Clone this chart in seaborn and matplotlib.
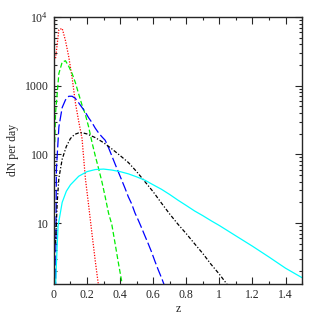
import numpy as np
import pandas as pd
import matplotlib
matplotlib.use('Agg')
import matplotlib.pyplot as plt
import matplotlib.ticker as mticker
import seaborn as sns

# %%
# redshift points and counts per day
red_z = [0.01, 0.03, 0.05, 0.07, 0.09, 0.11, 0.13, 0.15, 0.17, 0.19, 0.21, 0.23, 0.25, 0.27]
red_n = [2500, 6500, 6800, 4500, 2600, 1300, 560, 300, 170, 45, 18, 7, 2.8, 1.2]

green_z = [0.005, 0.01, 0.03, 0.05, 0.07, 0.09, 0.11, 0.13, 0.15, 0.17, 0.19, 0.21,
           0.23, 0.25, 0.27, 0.29, 0.31, 0.33, 0.35, 0.37, 0.39, 0.41]
green_n = [150, 400, 1500, 2200, 2300, 1900, 1500, 1100, 750, 520, 380, 250,
           150, 95, 62, 40, 24, 14, 9.5, 5, 2.6, 1.4]

blue_z = [0.01, 0.015, 0.03, 0.05, 0.07, 0.09, 0.11, 0.13, 0.15, 0.17, 0.19, 0.21, 0.23,
          0.25, 0.27, 0.29, 0.31, 0.33, 0.35, 0.37, 0.39, 0.41, 0.43, 0.45, 0.47,
          0.49, 0.51, 0.53, 0.55, 0.57, 0.59, 0.61, 0.63, 0.65, 0.67]
blue_n = [1.0, 60, 250, 480, 620, 700, 700, 650, 560, 480, 410, 340, 290,
          240, 205, 180, 160, 125, 95, 72, 55, 42, 32, 24, 19,
          14, 11, 8.5, 6.5, 5, 3.8, 2.8, 2.1, 1.6, 1.2]

black_z = [0.01, 0.02, 0.03, 0.05, 0.075, 0.1, 0.125, 0.15, 0.175, 0.2, 0.25, 0.3,
           0.35, 0.4, 0.45, 0.5, 0.55, 0.6, 0.65, 0.7, 0.75, 0.8, 0.85, 0.9,
           0.95, 1.0, 1.05]
black_n = [5, 20, 45, 85, 130, 170, 195, 205, 205, 198, 175, 148,
           120, 96, 76, 56, 40, 28.5, 19.5, 13.5, 9.6, 7, 5, 3.6,
           2.5, 1.8, 1.25]

cyan_z = [0.01, 0.015, 0.025, 0.05, 0.075, 0.1, 0.15, 0.2, 0.25, 0.3, 0.35, 0.4,
          0.45, 0.5, 0.55, 0.6, 0.65, 0.7, 0.75, 0.8, 0.85, 0.9, 0.95, 1.0,
          1.1, 1.2, 1.3, 1.4, 1.5]
cyan_n = [1.2, 2.5, 9, 20, 29, 36, 48, 56, 60, 61, 59, 56,
          52, 47, 42, 36, 31, 26, 21.5, 18, 15, 12.8, 10.8, 9.2,
          6.5, 4.6, 3.2, 2.2, 1.6]

# %%
sns.set_style('ticks')
plt.rcParams['font.family'] = ['Liberation Serif', 'DejaVu Serif']
plt.rcParams['mathtext.default'] = 'regular'
plt.rcParams['font.size'] = 8.5

fig = plt.figure(figsize=(3.19, 3.19), dpi=100)
ax = fig.add_axes([0.169, 0.110, 0.778, 0.837])

curves = [
    (red_z, red_n, '#ff0000', (0, (1, 1.2))),
    (green_z, green_n, '#00ee00', (0, (4, 2))),
    (blue_z, blue_n, '#0000ff', (0, (8, 2.5))),
    (black_z, black_n, 'black', (0, (3, 1.5, 1, 1.5))),
    (cyan_z, cyan_n, '#00ffff', '-'),
]
for z, n, col, ls in curves:
    df = pd.DataFrame({'z': z, 'n': n})
    sns.lineplot(data=df, x='z', y='n', color=col, linestyle=ls,
                 linewidth=0.9, estimator=None, sort=False, ax=ax)

ax.set_yscale('log')
ax.set_xlim(0, 1.5)
ax.set_ylim(1.3, 1e4)

ax.xaxis.set_major_locator(mticker.MultipleLocator(0.2))
ax.xaxis.set_minor_locator(mticker.MultipleLocator(0.1))
ax.xaxis.set_major_formatter(mticker.FuncFormatter(lambda v, p: '%g' % round(v, 1)))
ax.yaxis.set_major_locator(mticker.FixedLocator([10, 100, 1000, 10000]))
ax.yaxis.set_major_formatter(mticker.FixedFormatter(['10', '100', '1000', '$10^4$']))
ax.yaxis.set_minor_locator(mticker.LogLocator(base=10, subs=np.arange(2, 10)))
ax.yaxis.set_minor_formatter(mticker.NullFormatter())

ax.tick_params(which='both', direction='in', top=True, right=True, width=0.8,
               labelsize=8.5, pad=4)
ax.tick_params(which='major', length=5)
ax.tick_params(which='minor', length=2.5)
for s in ax.spines.values():
    s.set_linewidth(1)

ax.set_xlabel('z', labelpad=1)
ax.set_ylabel('dN per day', labelpad=4)

fig.savefig('out.png', dpi=100)
